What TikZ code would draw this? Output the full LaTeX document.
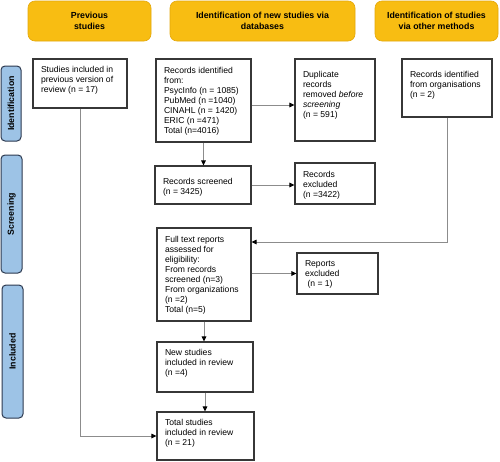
\documentclass[tikz,border=0pt]{standalone}
\usepackage{fontspec}
\setmainfont{Liberation Sans}
\usetikzlibrary{arrows.meta,calc}
\definecolor{hdr}{RGB}{248,189,18}
\definecolor{hdrb}{RGB}{228,168,12}
\definecolor{side}{RGB}{157,195,230}
\definecolor{sideb}{RGB}{45,58,80}
\definecolor{boxb}{RGB}{55,55,55}
\definecolor{con}{RGB}{140,140,140}
\newcommand\flowbox[7]{%
  \pgfmathsetmacro\bw{#4-#2-16}%
  \pgfmathsetmacro\bh{#5-#3-2*#6}%
  \node[flow, inner ysep=#6pt] (#1) at ({(#2+#4)/2},{(#3+#5)/2}) {\parbox[c][\bh pt][t]{\bw pt}{\raggedright #7}};%
}
\begin{document}
\begin{tikzpicture}[x=1pt,y=-1pt,
  hdrbox/.style={fill=hdr, draw=hdrb, line width=0.6pt, rounded corners=7pt, align=center,
    font=\fontsize{8.8}{11}\selectfont\bfseries, inner sep=0pt},
  sidebox/.style={fill=side, draw=sideb, line width=1pt, rounded corners=4pt, rotate=90,
    font=\fontsize{8.8}{11}\selectfont\bfseries, inner sep=0pt},
  flow/.style={draw=boxb, line width=1.1pt, fill=white, inner xsep=8pt,
    font=\fontsize{8.6}{10}\selectfont},
  arr/.style={draw=con, line width=1pt, -{Triangle[length=5pt,width=4.5pt,color=black]}}]
\useasboundingbox (0,0) rectangle (500,461);
\fill[white] (0,0) rectangle (500,461);
% headers
\node[hdrbox, minimum width=123pt, minimum height=40pt] (hprev) at (89.5,21) {Previous\\studies};
\node[hdrbox, minimum width=185pt, minimum height=40pt] (hdb) at (262.5,21) {Identification of new studies via\\databases};
\node[hdrbox, minimum width=123pt, minimum height=40pt] (hoth) at (436.5,21) {Identification of studies\\via other methods};
% side labels
\node[sidebox, minimum width=75pt, minimum height=20pt] (sid) at (11,103.5) {Identification};
\node[sidebox, minimum width=118pt, minimum height=21pt] (sscr) at (11.5,214) {Screening};
\node[sidebox, minimum width=133pt, minimum height=21pt] (sinc) at (12.5,351.5) {Included};
% boxes
\flowbox{prev}{33}{59}{127}{108}{7}{Studies included in\\previous version of\\review (n = 17)}
\flowbox{records}{156}{59}{251}{142}{8}{Records identified\\from:\\PsycInfo (n = 1085)\\PubMed (n =1040)\\CINAHL (n = 1420)\\ERIC (n =471)\\Total (n=4016)}
\flowbox{dup}{295}{59}{375}{141}{12}{Duplicate\\records\\removed \textit{before}\\\textit{screening}\\(n = 591)}
\flowbox{org}{402}{59}{492}{117}{12}{Records identified\\from organisations\\(n = 2)}
\flowbox{screened}{155}{166}{251}{204}{12}{Records screened\\(n = 3425)}
\flowbox{excl}{295}{163}{375}{204}{8}{Records\\excluded\\(n =3422)}
\flowbox{full}{157}{228}{251}{321}{8}{Full text reports\\assessed for\\eligibility:\\From records\\screened (n=3)\\From organizations\\(n =2)\\Total (n=5)}
\flowbox{rexcl}{297}{253}{378}{294}{8}{Reports\\excluded\\\hspace*{2.5pt}(n = 1)}
\flowbox{new}{157}{342}{253}{392}{7}{New studies\\included in review\\(n =4)}
\flowbox{total}{157}{412}{254}{460}{7}{Total studies\\included in review\\(n = 21)}
% connectors
\coordinate (j) at (448,242);
\draw[arr] (prev.south) |- (total.west);
\draw[arr] ([yshift=-4.5pt]records.east) -- ([yshift=-4.5pt]records.east -| dup.west);
\draw[arr] (records.south) -- (records.south |- screened.north);
\draw[arr] (screened.east) -- (screened.east -| excl.west);
\draw[arr] (org.south) -- (org.south |- j) -- (j -| full.east);
\draw[arr] (full.east |- rexcl.west) -- (rexcl.west);
\draw[arr] (full.south) -- (full.south |- new.north);
\draw[arr] (new.south) -- (new.south |- total.north);
\end{tikzpicture}
\end{document}
